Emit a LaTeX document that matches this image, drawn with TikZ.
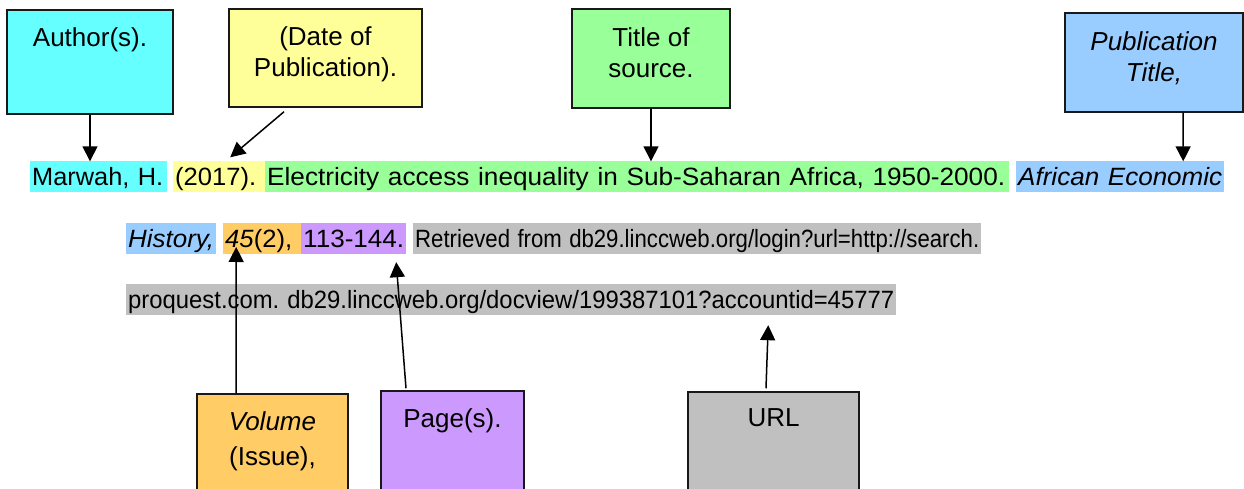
\documentclass[tikz,border=0pt]{standalone}
\usepackage{fontspec}
\setmainfont{Liberation Sans}
\usepackage{graphicx}
\usetikzlibrary{arrows.meta, positioning}
\setlength{\parindent}{0pt}
\frenchspacing
\definecolor{autcol}{HTML}{66FFFF}
\definecolor{datcol}{HTML}{FFFF99}
\definecolor{titcol}{HTML}{99FF99}
\definecolor{pubcol}{HTML}{99CCFF}
\definecolor{volcol}{HTML}{FFCC66}
\definecolor{pagcol}{HTML}{CC99FF}
\definecolor{urlcol}{HTML}{C0C0C0}
\newcommand{\fitw}[2]{\resizebox{#1}{\height}{#2}}

\begin{document}
\begin{tikzpicture}[x=1pt, y=-1pt,
			box/.style={draw=black!90, line width=1.5pt, inner sep=0pt},
			boxtext/.style={font=\fontsize{26}{31}\selectfont, align=center, inner sep=0pt},
			seg/.style={font=\fontsize{25}{30}\selectfont, anchor=west, inner xsep=2pt, inner ysep=0pt,
				text height=24pt, text depth=7pt, align=left},
			arr/.style={-{Triangle[width=15pt, length=15pt]}, line width=1.5pt}]
			
			\useasboundingbox (0,0) rectangle (1244,489);
			\clip (0,0) rectangle (1244,489);
			
			% Riquadri in alto
			\node[box, fill=autcol, minimum width=166pt, minimum height=104pt] (autbox) at (90,62) {};
			\node[boxtext, below=18pt of autbox.north] (auttxt) {Author(s).};
			\node[box, fill=datcol, minimum width=193pt, minimum height=98pt] (datbox) at (325.5,58) {};
			\node[boxtext, below=18pt of datbox.north] (dattxt) {(Date of\\Publication).};
			\node[box, fill=titcol, minimum width=158pt, minimum height=99pt] (titbox) at (651,58.5) {};
			\node[boxtext, below=19pt of titbox.north] (tittxt) {Title of\\source.};
			\node[box, fill=pubcol, minimum width=178pt, minimum height=99pt] (pubbox) at (1154,62.5) {};
			\node[boxtext, below=19pt of pubbox.north] (pubtxt) {\textit{Publication}\\\textit{Title,}};
			
			% Riquadri in basso
			\node[box, fill=volcol, minimum width=151pt, minimum height=120pt] (volbox) at (272.5,454) {};
			\node[boxtext, font=\fontsize{26}{35}\selectfont, below=18pt of volbox.north] (voltxt) {\textit{Volume}\\(Issue),};
			\node[box, fill=pagcol, minimum width=143pt, minimum height=120pt] (pagbox) at (452.5,451) {};
			\node[boxtext, below=18pt of pagbox.north] (pagtxt) {Page(s).};
			\node[box, fill=urlcol, minimum width=171pt, minimum height=120pt] (urlbox) at (773.5,452) {};
			\node[boxtext, below=17pt of urlbox.north] (urltxt) {URL};
			
			% --- Citazione ---
			% Riga 1
			\node[seg, fill=autcol, text width=133pt] (au) at (30,177) {\fitw{131pt}{Marwah, H.}};
			\node[seg, fill=datcol, text width=88pt] (dt) at (173,177) {\fitw{81pt}{(2017).}};
			\node[seg, fill=titcol, text width=740pt] (ti) at (265,177) {\fitw{738pt}{Electricity access inequality in Sub-Saharan Africa, 1950-2000.}};
			\node[seg, fill=pubcol, text width=204pt] (pb1) at (1016,177) {\fitw{204pt}{\textit{African Economic}}};
			
			% Riga 2
			\node[seg, fill=pubcol, text width=86pt] (pb2) at (126,238.5) {\fitw{86pt}{\textit{History,}}};
			\node[seg, fill=volcol, text width=74pt] (vo) at (223,238.5) {\fitw{67pt}{\textit{45}(2),}};
			\node[seg, fill=pagcol, text width=101pt] (pg) at (301,238.5) {\fitw{101pt}{113-144.}};
			\node[seg, fill=urlcol, text width=564pt] (u1) at (413,238.5) {\fitw{564pt}{Retrieved from db29.linccweb.org/login?url=http://search.}};
			
			% Riga 3
			\node[seg, fill=urlcol, text width=766pt] (u2) at (126,299.5) {\fitw{766pt}{proquest.com. db29.linccweb.org/docview/199387101?accountid=45777}};
			
			% Frecce dall'alto
			\draw[arr] (autbox) -- (autbox |- au.north);
			\draw[arr] ([xshift=-41.5pt, yshift=-4pt]datbox.south) -- ([xshift=11pt, yshift=4pt]dt.north);
			\draw[arr] (titbox) -- (titbox |- ti.north);
			\draw[arr] ([xshift=29pt]pubbox.south) -- ([xshift=63pt]pb1.north);
			
			% Frecce dal basso
			\draw[arr] ([xshift=-36.5pt]volbox.north) -- ([xshift=-26pt]vo.base);
			\draw[arr] ([xshift=-46.5pt, yshift=2pt]pagbox.north) -- ([xshift=42.5pt, yshift=-8pt]pg.south);
			\draw[arr] ([xshift=-7.5pt, yshift=3pt]urlbox.north) -- ([xshift=257pt, yshift=-10pt]u2.south);
			
		\end{tikzpicture}
\end{document}
